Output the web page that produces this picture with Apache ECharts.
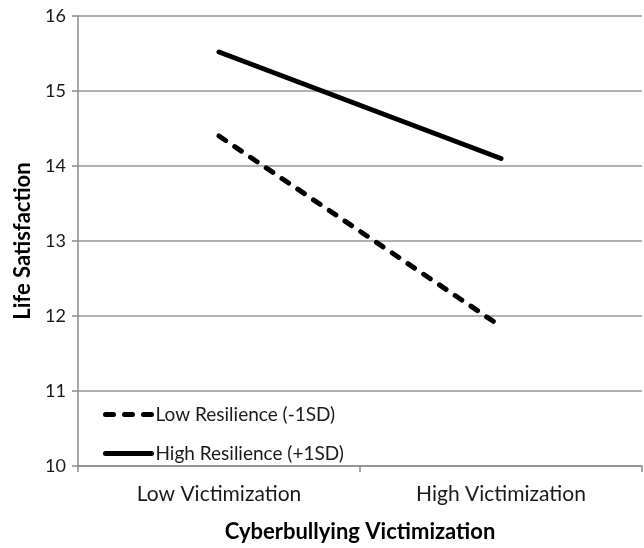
<!DOCTYPE html>
<html>
<head>
<meta charset="utf-8">
<script src="https://cdn.jsdelivr.net/npm/echarts@6/dist/echarts.min.js"></script>
<style>html,body{margin:0;padding:0;background:#fff}#c{width:644px;height:548px}</style>
</head>
<body>
<div id="c"></div>
<script>
var categories = ['Low Victimization', 'High Victimization'];
var lowResilience = [14.40, 11.86];
var highResilience = [15.52, 14.10];
var seriesNames = ['Low Resilience (-1SD)', 'High Resilience (+1SD)'];
var yTicks = { min: 10, max: 16, interval: 1 };

var font = 'Lato, "Open Sans", sans-serif';
var chart = echarts.init(document.getElementById('c'));
chart.setOption({
  animation: false,
  backgroundColor: '#fff',
  grid: { left: 78, right: 2, top: 16, bottom: 78 },
  xAxis: {
    type: 'category',
    data: categories,
    boundaryGap: true,
    axisLine: { lineStyle: { color: '#8c8c8c', width: 1.5 } },
    axisTick: { show: true, length: 6, lineStyle: { color: '#8c8c8c', width: 1.5 } },
    axisLabel: { color: '#1a1a1a', fontSize: 21, fontFamily: font, margin: 18 },
    name: 'Cyberbullying Victimization',
    nameLocation: 'middle',
    nameGap: 55,
    nameTextStyle: { color: '#000', fontSize: 22, fontWeight: 'bold', fontFamily: font }
  },
  yAxis: {
    type: 'value',
    min: yTicks.min, max: yTicks.max, interval: yTicks.interval,
    axisLine: { show: true, lineStyle: { color: '#8c8c8c', width: 1.5 } },
    axisTick: { show: true, length: 6, lineStyle: { color: '#8c8c8c', width: 1.5 } },
    splitLine: { lineStyle: { color: '#999', width: 1.5 } },
    axisLabel: { color: '#1a1a1a', fontSize: 18, fontFamily: font, margin: 12 },
    name: 'Life Satisfaction',
    nameLocation: 'middle',
    nameGap: 40,
    nameTextStyle: { color: '#000', fontSize: 22, fontWeight: 'bold', fontFamily: font }
  },
  legend: {
    orient: 'vertical',
    left: 98,
    top: 400,
    itemWidth: 46,
    itemHeight: 20,
    itemGap: 20,
    itemStyle: { opacity: 0 },
    lineStyle: { width: 5, cap: 'round' },
    textStyle: { color: '#1a1a1a', fontSize: 19, fontFamily: font, padding: [0,0,0,-1] },
    data: seriesNames
  },
  series: [
    {
      name: seriesNames[0], type: 'line', data: lowResilience,
      symbol: 'none',
      lineStyle: { color: '#000', width: 5, type: [8, 11], cap: 'round' },
      itemStyle: { color: '#000' }
    },
    {
      name: seriesNames[1], type: 'line', data: highResilience,
      symbol: 'none',
      lineStyle: { color: '#000', width: 5, type: 'solid', cap: 'round' },
      itemStyle: { color: '#000' }
    }
  ]
});
</script>
</body>
</html>
